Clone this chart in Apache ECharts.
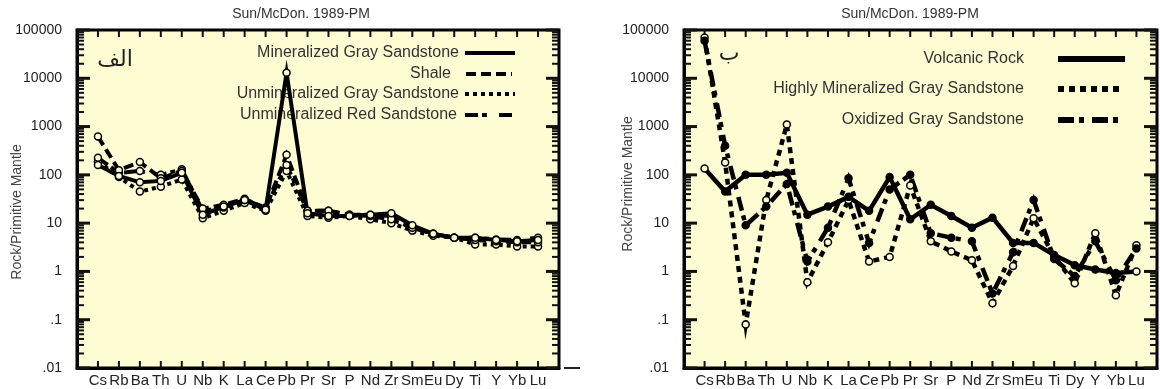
<!DOCTYPE html>
<html>
<head>
<meta charset="utf-8">
<script src="https://cdn.jsdelivr.net/npm/echarts@6/dist/echarts.min.js"></script>
<style>
  html, body { margin: 0; padding: 0; background: #fff; }
  #chart { width: 1160px; height: 389px; }
</style>
</head>
<body>
<div id="chart"></div>
<script>
// element order on each diagram (the right one swaps Ti and Dy)
const elementsA = ['Cs','Rb','Ba','Th','U','Nb','K','La','Ce','Pb','Pr','Sr','P','Nd','Zr','Sm','Eu','Dy','Ti','Y','Yb','Lu'];
const elementsB = ['Cs','Rb','Ba','Th','U','Nb','K','La','Ce','Pb','Pr','Sr','P','Nd','Zr','Sm','Eu','Ti','Dy','Y','Yb','Lu'];

// left diagram (الف)
const mineralizedGray = [160, 95, 70, 75, 110, 15, 22, 30, 19, 13000, 16, 14, 14, 15, 16, 9, 6, 5, 5, 4.5, 4.2, 4.5];
const shale = [620, 125, 185, 85, 120, 20, 24, 32, 20, 260, 18, 18, 15, 14, 12, 8, 6, 5, 4.5, 4.2, 4, 4];
const unmineralizedGray = [190, 90, 45, 57, 80, 12.6, 18, 26, 18, 120, 14, 13, 14, 12, 10, 7, 5.5, 5, 3.6, 3.6, 3.3, 3.3];
const unmineralizedRed = [225, 110, 120, 100, 130, 18, 21, 30, 21, 160, 18, 18, 15, 15, 14, 8.5, 6, 5, 5, 4.6, 4.5, 5];

// right diagram (ب)
const volcanicRock = [135, 45, 100, 100, 110, 15, 22, 35, 18, 90, 12, 24, 14, 8, 13, 3.9, 3.9, 2.2, 1.35, 1.1, 0.93, 1.0];
const highlyMineralized = [70000, 180, 0.08, 30, 1100, 0.6, 4, 30, 1.6, 2, 60, 4.2, 2.6, 1.7, 0.22, 1.3, 12.6, 2, 0.57, 6.2, 0.32, 3.5];
const oxidizedGray = [60000, 400, 9, 22, 65, 1.6, 8, 85, 3.9, 50, 100, 6.2, 5, 4.2, 0.35, 2.5, 30, 1.8, 0.8, 4.2, 0.66, 3.0];

// y axis decades
const decades = [0.01, 0.1, 1, 10, 100, 1000, 10000, 100000];

const BG = '#fefcd3';
const FONT = 'Liberation Sans, Arial, sans-serif';

const chart = echarts.init(document.getElementById('chart'));

const yLabel = v => {
  if (v >= 1) return String(Math.round(v));
  return String(+v.toPrecision(1)).replace(/^0/, '');
};

const grids = [
  { left: 77, top: 30, width: 482, height: 338 },
  { left: 684, top: 30, width: 477, height: 338 }
];

const xAxes = [];
const yAxes = [];
[elementsA, elementsB].forEach((names, g) => {
  xAxes.push({
    gridIndex: g, type: 'value', min: -1, max: 22, interval: 1, position: 'bottom',
    axisLine: { show: true, onZero: false, lineStyle: { color: '#000', width: 3 } },
    axisTick: { show: false },
    axisLabel: {
      show: true, margin: 5, color: '#222', fontSize: 15, fontFamily: FONT,
      formatter: v => (v >= 0 && v < names.length ? names[v] : '')
    },
    splitLine: { show: false }
  });
  yAxes.push({
    gridIndex: g, type: 'log', logBase: 10, min: 0.01, max: 100000, position: 'left',
    axisLine: { show: true, onZero: false, lineStyle: { color: '#000', width: 3 } },
    axisTick: { show: false },
    axisLabel: { show: true, margin: 15, color: '#222', fontSize: 14, fontFamily: FONT, formatter: yLabel },
    splitLine: { show: false }
  });
});

function makeSeries(values, g, dash, width, fill) {
  return {
    type: 'line',
    xAxisIndex: g,
    yAxisIndex: g,
    data: values.map((v, i) => [i, v]),
    symbol: 'circle',
    symbolSize: 7,
    itemStyle: { color: fill, borderColor: '#000', borderWidth: 1.5 },
    lineStyle: { color: '#000', width: width, type: dash, join: 'miter', miterLimit: 30, cap: 'butt' },
    animation: false
  };
}

const volcanicSeries = makeSeries(volcanicRock, 1, 'solid', 4.5, '#000');
volcanicSeries.data = volcanicRock.map((v, i) => {
  if (i === 0 || i === volcanicRock.length - 1) return { value: [i, v], itemStyle: { color: BG } };
  return [i, v];
});

const series = [
  makeSeries(unmineralizedGray, 0, [4, 4], 4, BG),
  makeSeries(unmineralizedRed, 0, [12, 4, 5, 10], 4, BG),
  makeSeries(shale, 0, [10, 5], 4, BG),
  makeSeries(mineralizedGray, 0, 'solid', 4, BG),
  makeSeries(highlyMineralized, 1, [6, 5], 4.5, BG),
  makeSeries(oxidizedGray, 1, [14, 5, 5, 8], 4.5, '#000'),
  volcanicSeries
];

chart.setOption({
  backgroundColor: '#fff',
  animation: false,
  grid: grids.map(g => Object.assign({ show: true, backgroundColor: BG, borderColor: '#000', borderWidth: 3 }, g)),
  xAxis: xAxes,
  yAxis: yAxes,
  series: series
});

function legendRow(label, textRight, y, x1, x2, dash, width) {
  return [
    { type: 'text', z: 1, style: { text: label, x: textRight, y: y, textAlign: 'right', textVerticalAlign: 'middle', fill: '#333', font: '16px ' + FONT } },
    { type: 'line', z: 1, shape: { x1: x1, y1: y, x2: x2, y2: y }, style: { stroke: '#000', lineWidth: width, lineDash: dash } }
  ];
}

const graphics = [].concat(
  [
    { type: 'text', style: { text: 'Sun/McDon. 1989-PM', x: 301, y: 14, textAlign: 'center', textVerticalAlign: 'middle', fill: '#333', font: '14px ' + FONT } },
    { type: 'text', style: { text: 'Sun/McDon. 1989-PM', x: 910, y: 14, textAlign: 'center', textVerticalAlign: 'middle', fill: '#333', font: '14px ' + FONT } },
    { type: 'text', rotation: Math.PI / 2, x: 17, y: 212, style: { text: 'Rock/Primitive Mantle', textAlign: 'center', textVerticalAlign: 'middle', fill: '#444', font: '14px ' + FONT } },
    { type: 'text', rotation: Math.PI / 2, x: 628, y: 184, style: { text: 'Rock/Primitive Mantle', textAlign: 'center', textVerticalAlign: 'middle', fill: '#444', font: '14px ' + FONT } },
    { type: 'text', z: 1, style: { text: 'الف', x: 115, y: 60, textAlign: 'center', textVerticalAlign: 'middle', fill: '#222', font: '22px DejaVu Sans' } },
    { type: 'text', z: 1, style: { text: 'ب', x: 729, y: 54, textAlign: 'center', textVerticalAlign: 'middle', fill: '#222', font: '22px DejaVu Sans' } },
    { type: 'line', shape: { x1: 564, y1: 368, x2: 580, y2: 368 }, style: { stroke: '#222', lineWidth: 2 } }
  ],
  legendRow('Mineralized Gray Sandstone', 459, 53, 465, 515, null, 4),
  legendRow('Shale', 451, 74, 466, 512, [10, 5], 4),
  legendRow('Unmineralized Gray Sandstone', 459, 94, 465, 515, [4, 4], 4),
  legendRow('Unmineralized Red Sandstone', 457, 115, 465, 512, [13, 4, 5, 12], 4),
  legendRow('Volcanic Rock', 1024, 59, 1058, 1125, null, 6),
  legendRow('Highly Mineralized Gray Sandstone', 1024, 89, 1058, 1124, [6, 5], 6),
  legendRow('Oxidized Gray Sandstone', 1024, 120, 1058, 1120, [16, 5, 5, 8], 6)
);

// pixel position of a (category index, value) pair, through the grid's own axes
function toPx(g, x, y) {
  let p = null;
  try { p = chart.convertToPixel({ gridIndex: g }, [x, y]); } catch (e) { p = null; }
  if (!p || !isFinite(p[0]) || !isFinite(p[1])) {
    const gr = grids[g];
    p = [gr.left + (x + 1) / 23 * gr.width, gr.top + (5 - Math.log10(y)) / 7 * gr.height];
  }
  return p;
}

// inward ticks on all four sides
function tickLine(x1, y1, x2, y2, w) {
  graphics.push({ type: 'line', z: 3, silent: true, shape: { x1: x1, y1: y1, x2: x2, y2: y2 }, style: { stroke: '#111', lineWidth: w } });
}
[elementsA, elementsB].forEach((names, g) => {
  const xl = toPx(g, -1, 1)[0];
  const xr = toPx(g, 22, 1)[0];
  const yb = toPx(g, 0, 0.01)[1];
  const yt = toPx(g, 0, 100000)[1];
  names.forEach((n, i) => {
    const x = toPx(g, i, 1)[0];
    tickLine(x, yb, x, yb - 7, 2);
    tickLine(x, yt, x, yt + 7, 2);
  });
  decades.forEach((d, j) => {
    const y = toPx(g, 0, d)[1];
    tickLine(xl, y, xl + 13, y, 3);
    tickLine(xr, y, xr - 13, y, 3);
    if (j < decades.length - 1) {
      for (let k = 2; k <= 9; k++) {
        const ym = toPx(g, 0, d * k)[1];
        tickLine(xl, ym, xl + 7, ym, 2);
        tickLine(xr, ym, xr - 7, ym, 2);
      }
    }
  });
});

chart.setOption({ graphic: graphics });
</script>
</body>
</html>
